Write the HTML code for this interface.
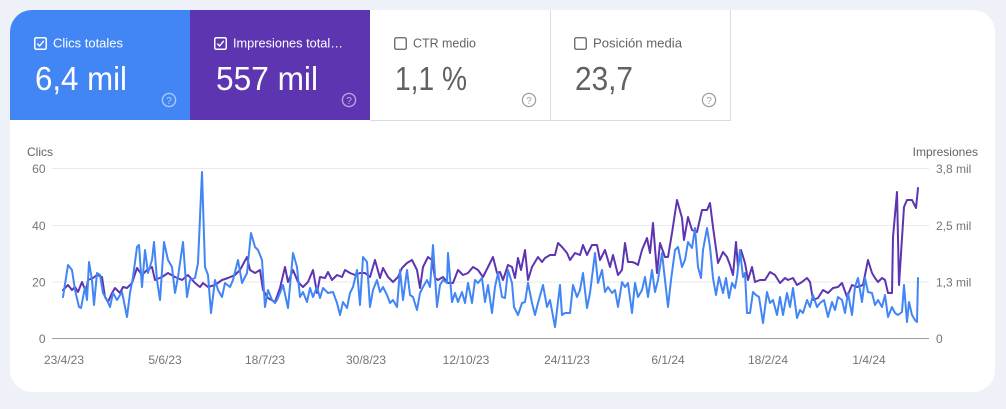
<!DOCTYPE html>
<html>
<head>
<meta charset="utf-8">
<style>
  html,body{margin:0;padding:0;background:#eef2f8;}
  svg{display:block;}
  text{font-family:"Liberation Sans",Arial,sans-serif;}
</style>
</head>
<body>
<svg width="1006" height="409" viewBox="0 0 1006 409" xmlns="http://www.w3.org/2000/svg">
  <defs>
    <clipPath id="card"><rect x="10" y="10" width="985" height="382" rx="22" ry="22"/></clipPath>
  </defs>
  <rect x="0" y="0" width="1006" height="409" fill="#eef2f8"/>
  <rect x="10" y="10" width="985" height="382" rx="22" ry="22" fill="#ffffff"/>
  <g clip-path="url(#card)">
    <rect x="10" y="10" width="180" height="110" fill="#4285f4"/>
    <rect x="190" y="10" width="180" height="110" fill="#5e35b1"/>
    <line x1="550.5" y1="10" x2="550.5" y2="120" stroke="#dadce0" stroke-width="1"/>
    <line x1="730.5" y1="10" x2="730.5" y2="120.5" stroke="#dadce0" stroke-width="1"/>
    <line x1="370" y1="120.5" x2="731" y2="120.5" stroke="#dadce0" stroke-width="1"/>
  </g>

  <!-- Tile 1 -->
  <rect x="34.75" y="37.75" width="11.5" height="11.5" rx="1.5" fill="none" stroke="#fff" stroke-width="1.5"/>
  <polyline points="37.3,43.6 39.6,46 43.8,40.8" fill="none" stroke="#fff" stroke-width="1.4"/>
  <text x="53" y="47.5" font-size="13" fill="#fff" textLength="70" lengthAdjust="spacingAndGlyphs">Clics totales</text>
  <text x="35" y="90" font-size="33" fill="#fff" textLength="92" lengthAdjust="spacingAndGlyphs">6,4 mil</text>
  <circle cx="169" cy="100" r="6.6" fill="none" stroke="rgba(255,255,255,0.55)" stroke-width="1.4"/>
  <text x="169" y="104" font-size="10" fill="rgba(255,255,255,0.6)" text-anchor="middle">?</text>

  <!-- Tile 2 -->
  <rect x="214.75" y="37.75" width="11.5" height="11.5" rx="1.5" fill="none" stroke="#fff" stroke-width="1.5"/>
  <polyline points="217.3,43.6 219.6,46 223.8,40.8" fill="none" stroke="#fff" stroke-width="1.4"/>
  <text x="233" y="47.5" font-size="13" fill="#fff" textLength="110" lengthAdjust="spacingAndGlyphs">Impresiones total…</text>
  <text x="216" y="90" font-size="33" fill="#fff" textLength="102" lengthAdjust="spacingAndGlyphs">557 mil</text>
  <circle cx="349" cy="100" r="6.6" fill="none" stroke="rgba(255,255,255,0.55)" stroke-width="1.4"/>
  <text x="349" y="104" font-size="10" fill="rgba(255,255,255,0.6)" text-anchor="middle">?</text>

  <!-- Tile 3 -->
  <rect x="394.75" y="37.75" width="11.5" height="11.5" rx="1.5" fill="none" stroke="#5f6368" stroke-width="1.3"/>
  <text x="413" y="47.5" font-size="13" fill="#5f6368" textLength="63" lengthAdjust="spacingAndGlyphs">CTR medio</text>
  <text x="395" y="90" font-size="33" fill="#616161" textLength="72" lengthAdjust="spacingAndGlyphs">1,1 %</text>
  <circle cx="529" cy="100" r="6.6" fill="none" stroke="#9aa0a6" stroke-width="1.3"/>
  <text x="529" y="104" font-size="10" fill="#9aa0a6" text-anchor="middle">?</text>

  <!-- Tile 4 -->
  <rect x="574.75" y="37.75" width="11.5" height="11.5" rx="1.5" fill="none" stroke="#5f6368" stroke-width="1.3"/>
  <text x="593" y="47.5" font-size="13" fill="#5f6368" textLength="89" lengthAdjust="spacingAndGlyphs">Posición media</text>
  <text x="575" y="90" font-size="33" fill="#616161" textLength="58" lengthAdjust="spacingAndGlyphs">23,7</text>
  <circle cx="709" cy="100" r="6.6" fill="none" stroke="#9aa0a6" stroke-width="1.3"/>
  <text x="709" y="104" font-size="10" fill="#9aa0a6" text-anchor="middle">?</text>

  <!-- Axis titles -->
  <text x="27" y="156" font-size="12" fill="#5f6368">Clics</text>
  <text x="978" y="156" font-size="12" fill="#5f6368" text-anchor="end">Impresiones</text>

  <!-- Gridlines -->
  <line x1="52" y1="168.5" x2="929" y2="168.5" stroke="#e8eaed" stroke-width="1"/>
  <line x1="52" y1="225.5" x2="929" y2="225.5" stroke="#e8eaed" stroke-width="1"/>
  <line x1="52" y1="282" x2="929" y2="282" stroke="#e8eaed" stroke-width="1"/>
  <line x1="52" y1="338.5" x2="929" y2="338.5" stroke="#9e9e9e" stroke-width="1"/>

  <!-- Left ticks -->
  <g font-size="12" fill="#70757a" text-anchor="end">
    <text x="45.5" y="173">60</text>
    <text x="45.5" y="230">40</text>
    <text x="45.5" y="286.5">20</text>
    <text x="45.5" y="343">0</text>
  </g>
  <!-- Right ticks -->
  <g font-size="12" fill="#70757a">
    <text x="936" y="173">3,8 mil</text>
    <text x="936" y="230">2,5 mil</text>
    <text x="936" y="286.5">1,3 mil</text>
    <text x="936" y="343">0</text>
  </g>
  <!-- X ticks -->
  <g font-size="12" fill="#70757a" text-anchor="middle">
    <text x="64" y="364">23/4/23</text>
    <text x="165" y="364">5/6/23</text>
    <text x="265" y="364">18/7/23</text>
    <text x="366" y="364">30/8/23</text>
    <text x="466" y="364">12/10/23</text>
    <text x="567" y="364">24/11/23</text>
    <text x="668" y="364">6/1/24</text>
    <text x="768" y="364">18/2/24</text>
    <text x="869" y="364">1/4/24</text>
  </g>

  <!-- Impressions (purple) -->
  <polyline fill="none" stroke="#5e35b1" stroke-width="2" stroke-linejoin="round" stroke-linecap="round" points="
63,290 68,285 72,290 75,287 78,292 82,282 86,292 88,280 93,278 97,275 102,277 105,297 108,302 112,293 115,288 120,293 123,287 127,288 132,283 137,268 142,275 147,270 152,267 155,280 162,277 168,273 175,277 182,280 188,275 195,283 200,287 203,283 208,287 215,285 222,280 228,278 235,275 240,270 247,257 250,270 255,273 260,270 263,290 268,298 275,302 280,288 285,267 288,282 293,270 298,282 303,287 308,282 313,270 317,293 320,277 325,278 328,272 332,280 337,275 342,277 345,270 350,273 355,275 360,273 365,273 370,277 375,260 380,278 383,268 388,277 393,282 398,277 402,268 407,263 412,260 417,270 420,288 423,267 428,257 432,260 435,278 438,280 443,277 448,283 453,283 458,270 463,275 468,273 473,267 478,270 483,277 488,267 493,257 497,273 500,272 503,280 508,265 512,267 515,278 518,258 521,270 525,250 528,280 532,267 535,262 538,257 542,262 545,258 550,255 555,255 558,243 562,247 567,253 570,260 575,253 580,255 583,245 587,255 592,245 597,245 600,260 605,250 610,267 613,255 618,275 622,270 625,243 628,262 632,262 635,263 638,265 642,250 647,238 650,253 653,223 657,273 660,243 665,257 668,257 672,233 677,200 682,218 684,240 688,217 692,230 697,232 702,210 707,210 710,203 713,227 718,263 723,252 727,257 730,265 733,275 736,242 738,267 741,250 745,263 748,280 752,267 755,282 760,280 765,280 770,272 775,275 780,283 785,278 788,280 793,278 797,285 802,282 807,278 810,282 813,300 818,298 823,290 828,293 833,288 838,287 842,283 847,297 852,285 857,287 863,285 868,260 872,273 875,278 878,282 882,278 885,280 888,293 892,293 893,237 897,192 899,285 904,207 907,200 912,200 916,208 918,188"/>

  <!-- Clicks (blue) -->
  <polyline fill="none" stroke="#4285f4" stroke-width="2" stroke-linejoin="round" stroke-linecap="round" points="
63,297 68,265 72,270 75,290 79,307 81,308 85,287 87,300 89,262 92,280 94,305 97,273 100,275 103,293 107,300 110,307 113,293 117,300 122,292 127,317 130,293 133,277 137,247 139,245 142,287 145,250 148,273 152,260 154,242 157,280 160,300 164,242 168,260 172,267 175,293 178,277 183,242 187,297 190,280 195,278 198,263 202,172 205,267 208,275 211,313 215,280 218,290 222,297 225,283 230,287 233,280 238,260 242,283 247,273 251,233 255,247 258,250 262,260 265,307 268,290 272,300 275,303 277,300 280,293 283,285 288,308 293,253 297,267 300,297 303,292 307,302 310,288 313,297 317,287 320,298 323,288 328,293 333,292 337,303 340,315 343,302 347,308 350,293 353,287 357,270 360,305 363,257 367,262 370,307 373,290 377,280 380,292 383,287 387,295 390,303 393,300 397,307 400,270 403,300 407,270 410,295 413,297 417,310 420,293 423,287 427,280 430,287 433,245 437,307 440,285 443,280 447,283 448,253 452,302 455,293 458,302 462,292 465,303 468,283 472,303 475,280 478,283 482,278 485,302 488,285 492,313 495,287 498,273 502,297 505,298 508,270 512,283 514,307 518,315 522,303 525,302 528,283 532,303 535,315 538,303 543,285 547,307 550,300 555,327 560,285 562,315 565,313 570,313 573,285 577,297 580,290 583,273 587,308 590,293 595,253 598,283 602,270 605,292 608,287 612,293 615,290 618,307 622,282 625,287 628,283 632,313 635,283 638,297 642,290 645,277 648,297 652,270 655,292 658,280 662,253 665,280 668,307 671,280 675,250 678,247 682,267 685,260 688,242 692,248 695,228 698,267 701,278 703,250 707,228 710,247 713,278 716,295 719,277 723,293 726,278 729,298 732,283 735,288 737,277 740,250 743,277 745,273 747,313 750,313 753,292 756,295 759,297 763,323 767,292 770,303 773,300 777,315 780,297 783,315 787,293 790,307 793,288 797,318 800,310 803,313 807,300 810,307 813,295 817,307 820,303 824,300 828,317 832,302 835,310 838,297 842,300 845,313 848,293 852,315 855,287 858,278 862,302 865,278 868,292 872,293 875,305 878,300 882,307 885,295 888,317 892,307 895,313 898,315 902,312 904,285 907,322 909,302 912,315 915,320 917,322 918,278"/>
</svg>
</body>
</html>
